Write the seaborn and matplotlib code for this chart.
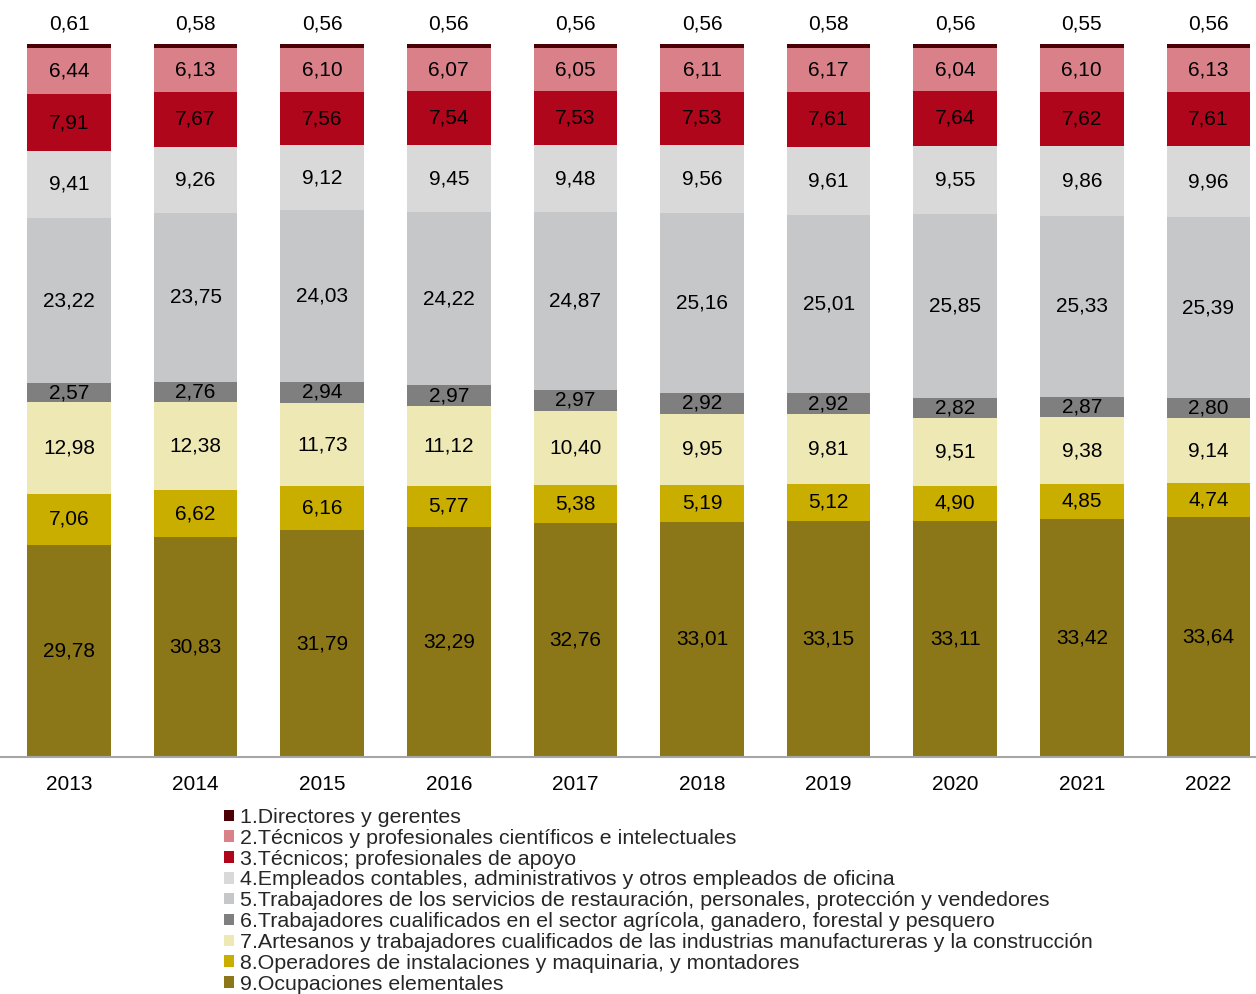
import numpy as np
import pandas as pd
import matplotlib
matplotlib.use("Agg")
import matplotlib.pyplot as plt
import seaborn as sns
from matplotlib.patches import Patch

years = ["2013", "2014", "2015", "2016", "2017", "2018", "2019", "2020", "2021", "2022"]
categories = [
    "1.Directores y gerentes",
    "2.Técnicos y profesionales científicos e intelectuales",
    "3.Técnicos; profesionales de apoyo",
    "4.Empleados contables, administrativos y otros empleados de oficina",
    "5.Trabajadores de los servicios de restauración, personales, protección y vendedores",
    "6.Trabajadores cualificados en el sector agrícola, ganadero, forestal y pesquero",
    "7.Artesanos y trabajadores cualificados de las industrias manufactureras y la construcción",
    "8.Operadores de instalaciones y maquinaria, y montadores",
    "9.Ocupaciones elementales",
]
c1 = [0.61, 0.58, 0.56, 0.56, 0.56, 0.56, 0.58, 0.56, 0.55, 0.56]
c2 = [6.44, 6.13, 6.10, 6.07, 6.05, 6.11, 6.17, 6.04, 6.10, 6.13]
c3 = [7.91, 7.67, 7.56, 7.54, 7.53, 7.53, 7.61, 7.64, 7.62, 7.61]
c4 = [9.41, 9.26, 9.12, 9.45, 9.48, 9.56, 9.61, 9.55, 9.86, 9.96]
c5 = [23.22, 23.75, 24.03, 24.22, 24.87, 25.16, 25.01, 25.85, 25.33, 25.39]
c6 = [2.57, 2.76, 2.94, 2.97, 2.97, 2.92, 2.92, 2.82, 2.87, 2.80]
c7 = [12.98, 12.38, 11.73, 11.12, 10.40, 9.95, 9.81, 9.51, 9.38, 9.14]
c8 = [7.06, 6.62, 6.16, 5.77, 5.38, 5.19, 5.12, 4.90, 4.85, 4.74]
c9 = [29.78, 30.83, 31.79, 32.29, 32.76, 33.01, 33.15, 33.11, 33.42, 33.64]

colors = ["#4a0004", "#d98089", "#b0061c", "#d9d9d9", "#c6c7c9",
          "#7f7f7f", "#eee8b5", "#c9ae00", "#8c7718"]

series = [c1, c2, c3, c4, c5, c6, c7, c8, c9]

sns.set_theme(style="white")
plt.rcParams["font.family"] = ["Liberation Sans", "DejaVu Sans"]

fig = plt.figure(figsize=(12.56, 9.94), dpi=100)
ax = fig.add_axes([0.0, 1 - 757 / 994, 1.0, (757 - 44) / 994])

vals = np.array(series)  # rows: categories 1..9
bottoms = np.zeros_like(vals)
run = np.zeros(vals.shape[1])
for i in range(len(series) - 1, -1, -1):
    bottoms[i] = run
    run = run + vals[i]
tops = bottoms + vals

# draw from tallest cumulative (cat1 top) to shortest so smaller overlay
for i in range(len(series)):
    df = pd.DataFrame({"year": years, "top": tops[i]})
    sns.barplot(data=df, x="year", y="top", order=years, color=colors[i],
                saturation=1, width=0.66, errorbar=None, ax=ax, linewidth=0)

for i in range(len(series)):
    for j in range(len(years)):
        txt = f"{vals[i, j]:.2f}".replace(".", ",")
        if i == 0:
            y = tops[i, j] + 2.8
        else:
            y = (bottoms[i, j] + tops[i, j]) / 2
        ax.text(j, y, txt, ha="center", va="center", fontsize=15,
                color="black", clip_on=False)

ax.set_xlim(-69 / 126.6, (1256 - 69) / 126.6)
ax.set_ylim(0, 100)
ax.set_xlabel("")
ax.set_ylabel("")
ax.set_yticks([])
for s in ["top", "right", "left"]:
    ax.spines[s].set_visible(False)
ax.spines["bottom"].set_color("#a6a6a6")
ax.spines["bottom"].set_linewidth(1.5)
ax.tick_params(axis="x", length=0, labelsize=15, pad=13, colors="black")

handles = [Patch(facecolor=c, edgecolor="none") for c in colors]
leg = fig.legend(handles, categories, loc="upper left",
                 bbox_to_anchor=(224 / 1256, 1 - 808 / 994),
                 frameon=False, fontsize=15.4, borderpad=0, borderaxespad=0,
                 handlelength=0.45, handleheight=0.45, handletextpad=0.3,
                 labelspacing=0.085)

fig.savefig("out.png", dpi=100)
